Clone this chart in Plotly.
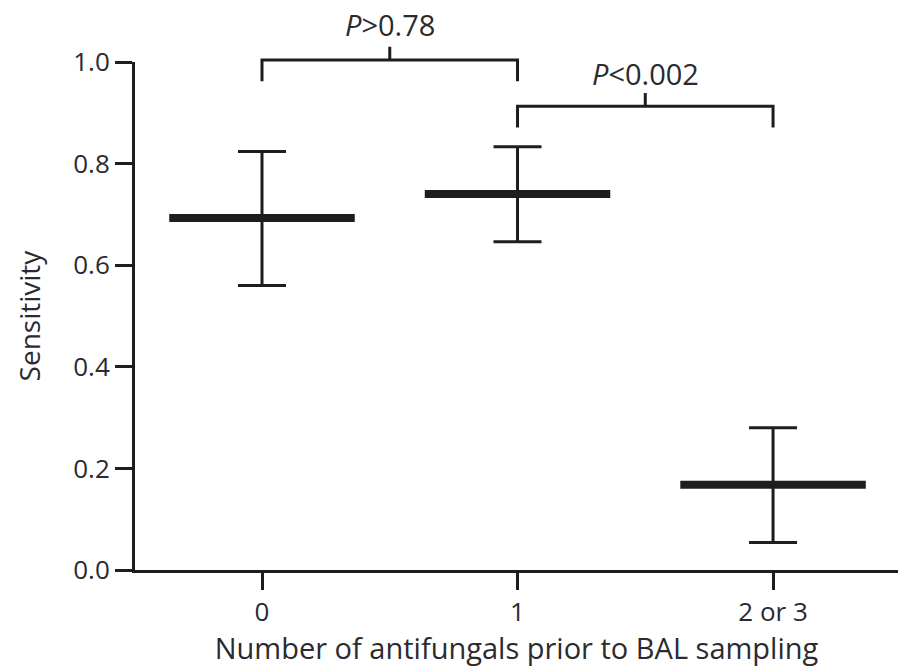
import plotly.graph_objects as go

# ---- data ----
categories = ["0", "1", "2 or 3"]
sensitivity = [0.693, 0.740, 0.168]
ci_upper = [0.824, 0.833, 0.280]
ci_lower = [0.560, 0.646, 0.054]
comparisons = [(0, 1, "<i>P</i>>0.78"), (1, 2, "<i>P</i><0.002")]

INK = "#1e1e1e"
TXT = "#2a2a30"
FONT = "Open Sans"
Y_RANGE = [0.0, 1.0]
X_RANGE = [-0.497, 2.489]

xpos = list(range(len(categories)))


def ypaper(v):
    return (v - Y_RANGE[0]) / (Y_RANGE[1] - Y_RANGE[0])


fig = go.Figure()

# mean lines
half = 0.363
mx, my = [], []
for i, m in zip(xpos, sensitivity):
    mx += [i - half, i + half, None]
    my += [m, m, None]
fig.add_trace(go.Scatter(x=mx, y=my, mode="lines",
                         line=dict(color=INK, width=8),
                         hoverinfo="skip", showlegend=False))

# error bars
fig.add_trace(go.Scatter(
    x=xpos, y=sensitivity, mode="markers",
    marker=dict(size=1, color="rgba(0,0,0,0)"),
    error_y=dict(type="data", symmetric=False,
                 array=[u - m for u, m in zip(ci_upper, sensitivity)],
                 arrayminus=[m - l for l, m in zip(ci_lower, sensitivity)],
                 color=INK, thickness=3, width=24),
    showlegend=False))

# significance brackets
levels = [1.004, 0.913]
label_y = [1.073, 0.978]
shapes = []
annotations = []
for (a, b, txt), lv, ly in zip(comparisons, levels, label_y):
    xs = [a, a, b, b]
    ys = [lv - 0.042, lv, lv, lv - 0.042]
    path = "M %s,%s L %s,%s L %s,%s L %s,%s" % (xs[0], ypaper(ys[0]), xs[1], ypaper(ys[1]),
                                                xs[2], ypaper(ys[2]), xs[3], ypaper(ys[3]))
    shapes.append(dict(type="path", path=path, xref="x", yref="paper",
                       line=dict(color=INK, width=3)))
    mid = (a + b) / 2
    shapes.append(dict(type="line", xref="x", yref="paper", x0=mid, x1=mid,
                       y0=ypaper(lv), y1=ypaper(lv + 0.026),
                       line=dict(color=INK, width=3)))
    annotations.append(dict(x=mid, y=ypaper(ly), xref="x", yref="paper",
                            xanchor="center", yanchor="middle",
                            text=txt, showarrow=False,
                            font=dict(family=FONT, size=29, color=TXT)))

fig.update_layout(
    width=898, height=667,
    margin=dict(l=135, r=0, t=62, b=97),
    paper_bgcolor="white", plot_bgcolor="white",
    font=dict(family=FONT, size=26, color=TXT),
    shapes=shapes, annotations=annotations,
    xaxis=dict(range=X_RANGE, tickvals=xpos, ticktext=categories,
               showline=True, linecolor=INK, linewidth=3,
               ticks="outside", ticklen=17, tickwidth=3, tickcolor=INK,
               showgrid=False, zeroline=False,
               tickfont=dict(family=FONT, size=26, color=TXT),
               title=dict(text="Number of antifungals prior to BAL sampling",
                          font=dict(family=FONT, size=29, color=TXT), standoff=8)),
    yaxis=dict(range=Y_RANGE, tickvals=[0, 0.2, 0.4, 0.6, 0.8, 1.0],
               ticktext=["0.0", "0.2", "0.4", "0.6", "0.8", "1.0"],
               showline=True, linecolor=INK, linewidth=3,
               ticks="outside", ticklen=17, tickwidth=3, tickcolor=INK,
               showgrid=False, zeroline=False,
               tickfont=dict(family=FONT, size=26, color=TXT),
               title=dict(text="Sensitivity", font=dict(family=FONT, size=28, color=TXT),
                          standoff=25)),
)

fig.write_html("out.html", config={"displayModeBar": False},
               post_script="document.body.style.margin='0px';")
